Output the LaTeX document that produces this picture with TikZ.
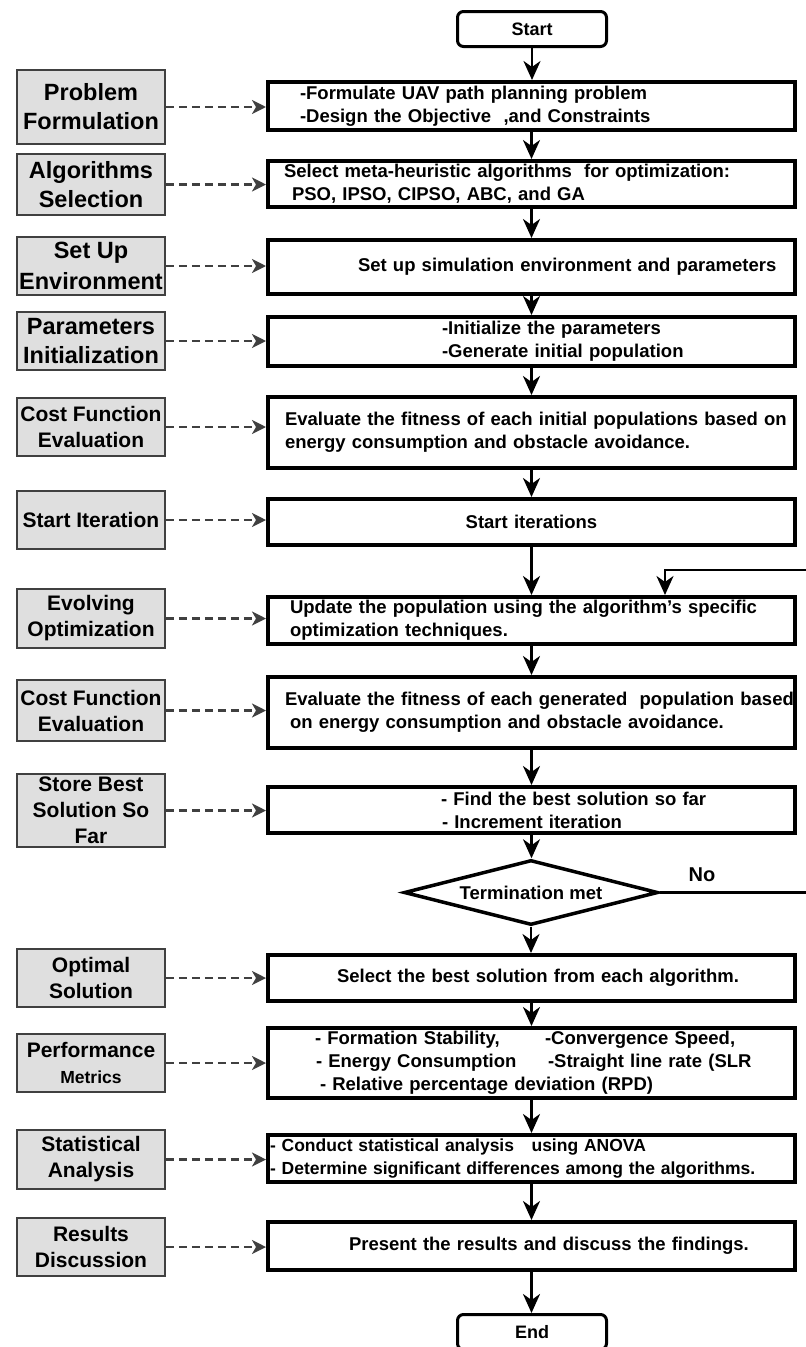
\documentclass[tikz,border=0pt]{standalone}
\usepackage{fontspec}
\setmainfont{Liberation Sans}
\usetikzlibrary{shapes.geometric, arrows.meta, positioning, calc}

\begin{document}
\begin{tikzpicture}[x=1pt, y=-1pt,
        stage/.style={draw=black!75, line width=1.8pt, fill=gray!25, minimum width=148pt, align=center, inner sep=1pt, font=\fontsize{21}{26}\selectfont\bfseries},
        stagebig/.style={stage, font=\fontsize{23.5}{29}\selectfont\bfseries},
        task/.style={draw, line width=4pt, minimum width=527pt, text width=527pt, inner xsep=0pt, align=left, font=\fontsize{18.5}{23}\selectfont\bfseries},
        term/.style={draw, line width=3pt, rounded corners=6pt, minimum width=149pt, minimum height=35pt, font=\fontsize{18}{21}\selectfont\bfseries},
        decision/.style={draw, diamond, aspect=3.7, line width=3.5pt, minimum width=254pt, minimum height=65pt, inner sep=0pt, font=\fontsize{18.5}{22}\selectfont\bfseries},
        arrow/.style={-{Stealth[length=19pt, width=17pt, inset=6pt]}, line width=2.8pt},
        link/.style={-{Stealth[length=14pt, width=14pt, inset=4pt]}, line width=2.5pt, draw=black!75, dash pattern=on 8pt off 5pt}
    ]

    \useasboundingbox (0,0) rectangle (806,1347);
    \clip (0,0) rectangle (806,1347);

    % Start / End
    \node[term] (start) at (532, 29) {Start};
    \node[term] (finish) at (532, 1332) {End};

    % Main flow boxes
    \node[task, minimum height=48pt] (b1) at (531.5, 106) {\hspace*{32pt}-Formulate UAV path planning problem\\\hspace*{32pt}-Design the Objective\ \ ,and Constraints};
    \node[task, minimum height=46pt] (b2) at (531.5, 184) {\hspace*{16pt}Select meta-heuristic algorithms\ \ for optimization:\\\hspace*{24pt}PSO, IPSO, CIPSO, ABC, and GA};
    \node[task, minimum height=54pt] (b3) at (531.5, 267) {\hspace*{90pt}Set up simulation environment and parameters};
    \node[task, minimum height=49pt] (b4) at (531.5, 341.5) {\hspace*{174pt}-Initialize the parameters\\\hspace*{174pt}-Generate initial population};
    \node[task, minimum height=71pt] (b5) at (531.5, 432.5) {\hspace*{17pt}\mbox{Evaluate the fitness of each initial populations based on}\\\hspace*{17pt}energy consumption and obstacle avoidance.};
    \node[task, align=center, minimum height=46pt] (b6) at (531.5, 522) {Start iterations};
    \node[task, minimum height=47pt] (b7) at (531.5, 620.5) {\hspace*{22pt}Update the population using the algorithm's specific\\\hspace*{22pt}optimization techniques.};
    \node[task, minimum height=71pt] (b8) at (531.5, 712.5) {\hspace*{17pt}\mbox{Evaluate the fitness of each generated\ \ population based}\\\hspace*{22pt}on energy consumption and obstacle avoidance.};
    \node[task, minimum height=46pt] (b9) at (531.5, 810) {\hspace*{173pt}- Find the best solution so far\\\hspace*{174pt}- Increment iteration};
    \node[decision] (dia) at (531, 892.5) {Termination met};
    \node[task, minimum height=46pt] (b10) at (531.5, 978) {\hspace*{69pt}Select the best solution from each algorithm.};
    \node[task, minimum height=66pt] (b11) at (531.5, 1063) {\hspace*{47pt}\makebox[230pt][l]{- Formation Stability,}-Convergence Speed,\\\hspace*{48pt}\makebox[232pt][l]{- Energy Consumption}-Straight line rate (SLR\\\hspace*{52pt}- Relative percentage deviation (RPD)};
    \node[task, minimum height=47pt, font=\fontsize{17.5}{23}\selectfont\bfseries] (b12) at (531.5, 1158.5) {\hspace*{2pt}- Conduct statistical analysis\ \ \ using ANOVA\\\hspace*{2pt}- Determine significant differences among the algorithms.};
    \node[task, minimum height=48pt] (b13) at (531.5, 1246) {\hspace*{81pt}Present the results and discuss the findings.};

    % Left stage labels
    \node[stagebig, minimum height=74pt] (l1) at (91, 107) {Problem\\Formulation};
    \node[stagebig, minimum height=61pt] (l2) at (91, 184.5) {Algorithms\\Selection};
    \node[stagebig, minimum height=58pt, font=\fontsize{23.5}{31}\selectfont\bfseries] (l3) at (91, 266) {Set Up\\Environment};
    \node[stagebig, minimum height=58pt] (l4) at (91, 341) {Parameters\\Initialization};
    \node[stage, minimum height=58pt] (l5) at (91, 427) {Cost Function\\Evaluation};
    \node[stage, minimum height=58pt] (l6) at (91, 520) {Start Iteration};
    \node[stage, minimum height=59pt] (l7) at (91, 618.5) {Evolving\\Optimization};
    \node[stage, minimum height=61pt] (l8) at (91, 710.5) {Cost Function\\Evaluation};
    \node[stage, minimum height=73pt] (l9) at (91, 810.5) {Store Best\\Solution So\\Far};
    \node[stage, minimum height=58pt] (l10) at (91, 978) {Optimal\\Solution};
    \node[stage, minimum height=58pt] (l11) at (91, 1063) {Performance\\{\fontsize{17.5}{21}\selectfont Metrics}};
    \node[stage, minimum height=59pt] (l12) at (91, 1159.5) {Statistical\\Analysis};
    \node[stage, minimum height=58pt] (l13) at (91, 1247) {Results\\Discussion};

    % Dashed links from labels to boxes
    \foreach \n in {1,...,13}
        \draw[link] (l\n.east) -- (l\n.east -| b\n.west);

    % Main arrows
    \foreach \i/\j in {start/b1, b1/b2, b2/b3, b3/b4, b4/b5, b5/b6, b6/b7, b7/b8, b8/b9, b9/dia, dia/b10, b10/b11, b11/b12, b12/b13, b13/finish}
        \draw[arrow] (\i) -- (\i |- \j.north);

    % Loop back (No)
    \coordinate (loopr) at (812, 570);
    \coordinate (loopl) at (665, 570);
    \draw[arrow] (dia.east) -| (loopr) -- (loopl) -- (loopl |- b7.north);
    \node[font=\fontsize{20}{24}\selectfont\bfseries] (nolbl) at (702, 875) {No};

\end{tikzpicture}
\end{document}
